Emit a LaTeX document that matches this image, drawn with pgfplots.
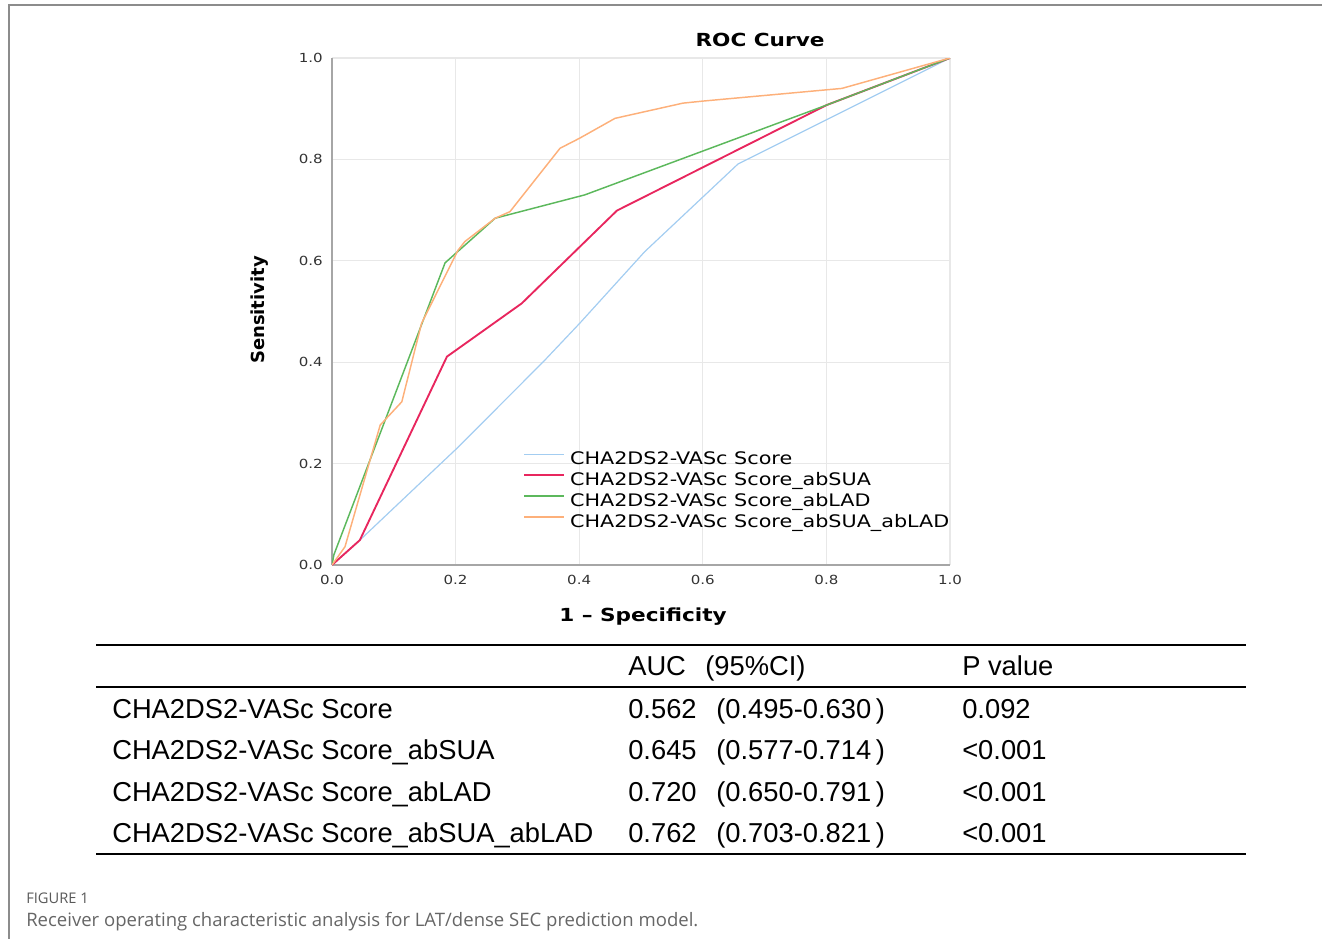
\documentclass[border=0pt]{standalone}
\usepackage{fontspec}
\usepackage{pgfplots}
\pgfplotsset{compat=1.18}
\setmainfont{Liberation Sans}
\newfontfamily\chartfont[FakeStretch=1.2]{DejaVu Sans}
\newfontfamily\plainfont{DejaVu Sans}
\newfontfamily\capfont{Open Sans}
\definecolor{cBlue}{HTML}{A3CDF1}
\definecolor{cRed}{HTML}{E8265E}
\definecolor{cGreen}{HTML}{5CB85C}
\definecolor{cOrange}{HTML}{FDB07A}
\definecolor{frame}{HTML}{8C8C8C}

\begin{document}
\begin{tikzpicture}
\useasboundingbox (0pt,0pt) rectangle (991.5pt,-704.25pt);

\begin{axis}[
  at={(249pt,-423.75pt)}, anchor=south west,
  scale only axis, width=463.5pt, height=380.25pt,
  xmin=0, xmax=1, ymin=0, ymax=1,
  axis x line*=bottom, axis y line*=left,
  axis line style={draw=black!35, line width=1.2pt, -},
  major tick length=0pt,
  xtick={0,0.2,0.4,0.6,0.8,1}, ytick={0,0.2,0.4,0.6,0.8,1},
  xticklabels={0.0,0.2,0.4,0.6,0.8,1.0},
  yticklabels={0.0,0.2,0.4,0.6,0.8,1.0},
  ticklabel style={font=\chartfont\fontsize{9.4pt}{11pt}\selectfont, text=black!80, inner sep=0pt},
  xticklabel style={anchor=north, yshift=-7.1pt},
  yticklabel style={anchor=east, xshift=-6.75pt},
  grid=major, grid style={draw=black!9, line width=0.8pt},
  legend cell align=left,
  legend style={at={(0.3090,0.2229)}, anchor=north west, draw=none, fill=none,
    inner sep=0pt, row sep=3.25pt, column sep=3.75pt,
    font=\chartfont\fontsize{12.95pt}{15pt}\selectfont,
    nodes={inner sep=0pt, text height=9.5pt, text depth=3pt}},
  legend image code/.code={\draw[#1] (0pt,4.8pt) -- (30pt,4.8pt);},
]
\addplot[cBlue, line width=0.9pt] coordinates {(0,0)(0.045,0.049)(0.202,0.230)(0.342,0.401)(0.401,0.477)(0.506,0.618)(0.657,0.791)(1,1)};
\addplot[cRed, line width=1.4pt] coordinates {(0,0)(0.045,0.049)(0.186,0.411)(0.307,0.516)(0.461,0.699)(0.8,0.907)(1,1)};
\addplot[cGreen, line width=1.1pt] coordinates {(0,0)(0.003,0.02)(0.183,0.596)(0.264,0.684)(0.409,0.730)(0.8,0.907)(1,1)};
\addplot[cOrange, line width=1.1pt] coordinates {(0,0)(0.021,0.036)(0.078,0.276)(0.113,0.322)(0.145,0.477)(0.204,0.621)(0.215,0.638)(0.264,0.684)(0.288,0.697)(0.369,0.822)(0.401,0.842)(0.458,0.881)(0.568,0.911)(0.6,0.915)(0.825,0.940)(1,1)};
\legend{CHA2DS2-VASc Score,CHA2DS2-VASc Score\_abSUA,CHA2DS2-VASc Score\_abLAD,CHA2DS2-VASc Score\_abSUA\_abLAD}
\end{axis}

\begin{scope}[x=0.75pt, y=-0.75pt]
% figure frame
\draw[frame, line width=1.1pt] (1322,5) -- (9,5) -- (9,939);
% chart titles
\node[font=\chartfont\bfseries\fontsize{13.5pt}{16pt}\selectfont] at (760,40) {ROC Curve};
\node[font=\chartfont\bfseries\fontsize{13.5pt}{16pt}\selectfont] at (643,617) {1 – Specificity};
\node[font=\plainfont\bfseries\fontsize{13.5pt}{16pt}\selectfont, rotate=90] at (260,310) {Sensitivity};
% table
\draw[line width=1.5pt] (96,645) -- (1246,645);
\draw[line width=1.5pt] (96,687) -- (1246,687);
\draw[line width=1.5pt] (96,854) -- (1246,854);
\begin{scope}[every node/.style={anchor=base west, inner sep=0pt, font=\fontsize{20.5pt}{24pt}\selectfont}]
\node at (628,675.5) {AUC};
\node at (705,675.5) {(95\%CI)};
\node at (962,675.5) {P value};
\node at (112,718) {CHA2DS2-VASc Score};
\node at (628,718) {0.562};
\node at (716,718) {(0.495-0.630\,)};
\node at (962,718) {0.092};
\node at (112,759) {CHA2DS2-VASc Score\_abSUA};
\node at (628,759) {0.645};
\node at (716,759) {(0.577-0.714\,)};
\node at (962,759) {<0.001};
\node at (112,801) {CHA2DS2-VASc Score\_abLAD};
\node at (628,801) {0.720};
\node at (716,801) {(0.650-0.791\,)};
\node at (962,801) {<0.001};
\node at (112,842) {CHA2DS2-VASc Score\_abSUA\_abLAD};
\node at (628,842) {0.762};
\node at (716,842) {(0.703-0.821\,)};
\node at (962,842) {<0.001};
\end{scope}
% caption
\node[anchor=base west, inner sep=0pt, text=black!65, font=\capfont\fontsize{11pt}{13pt}\selectfont] at (26,903) {FIGURE 1};
\node[anchor=base west, inner sep=0pt, text=black!60, font=\capfont\fontsize{13.9pt}{16pt}\selectfont] at (26,926) {Receiver operating characteristic analysis for LAT/dense SEC prediction model.};
\end{scope}
\end{tikzpicture}
\end{document}
